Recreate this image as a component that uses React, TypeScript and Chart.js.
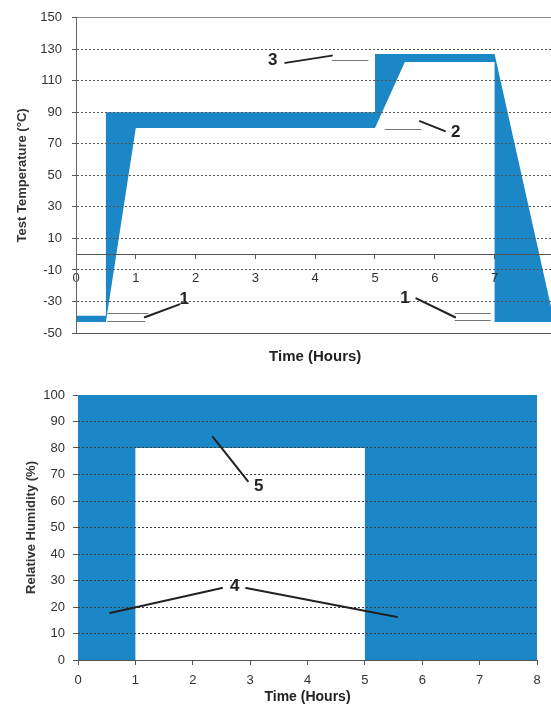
import React, { useEffect, useRef } from 'react';
import { Chart, registerables } from 'chart.js';

Chart.register(...registerables);

const FONT = '"Liberation Sans", Arial, Helvetica, sans-serif';
const BLUE = '#1c87c7';
Chart.defaults.font.family = FONT;

// ---------- Top chart: test temperature profile ----------
const hourTicks = [0, 1, 2, 3, 4, 5, 6, 7, 8];
const tempTicks = [-50, -30, -10, 10, 30, 50, 70, 90, 110, 130, 150];
// upper edge of the tolerance band
const upperHours = [0, 0.5, 0.5, 5, 5, 7, 8];
const upperTemps = [-39, -39, 90, 90, 127, 127, -43];
// lower edge of the tolerance band
const lowerHours = [0, 0.5, 1, 5, 5.5, 7, 7, 8];
const lowerTemps = [-43, -43, 80, 80, 122, 122, -43, -43];

// ---------- Bottom chart: relative humidity ----------
const rhTicks = [0, 10, 20, 30, 40, 50, 60, 70, 80, 90, 100];
const rhHours = [0, 1, 1, 5, 5, 8];
const rhLower = [0, 0, 80, 80, 0, 0];

// ---------- Callouts (data coordinates) ----------
type Callout = {
  text: string;
  at: [number, number];
  leaders: [number, number, number, number][];
  marks: [number, number, number][];
};

const tempCallouts: Callout[] = [
  { text: '3', at: [3.29, 123.3], leaders: [[3.5, 121.4, 4.28, 126.0]], marks: [[4.28, 4.89, 123.5]] },
  { text: '2', at: [6.35, 77.5], leaders: [[5.75, 84.4, 6.17, 78.1]], marks: [[5.17, 5.77, 79.4]] },
  { text: '1', at: [1.81, -28.6], leaders: [[1.73, -31.8, 1.15, -40.0]], marks: [[0.53, 1.2, -37.6], [0.53, 1.15, -42.3]] },
  { text: '1', at: [5.5, -28.0], leaders: [[5.69, -28.0, 6.34, -40.0]], marks: [[6.34, 6.93, -37.6], [6.34, 6.93, -41.8]] },
];

const rhCallouts: Callout[] = [
  { text: '5', at: [3.15, 65.7], leaders: [[2.96, 67.5, 2.35, 84.2]], marks: [] },
  { text: '4', at: [2.73, 27.9], leaders: [[2.51, 27.2, 0.56, 17.7], [2.93, 27.2, 5.56, 16.2]], marks: [] },
];

function makeCalloutPlugin(items: Callout[]) {
  return {
    id: 'callouts',
    afterDraw(chart: any) {
      const ctx = chart.ctx as CanvasRenderingContext2D;
      const xs = chart.scales.x;
      const ys = chart.scales.y;
      const px = (v: number) => xs.getPixelForValue(v);
      const py = (v: number) => ys.getPixelForValue(v);
      ctx.save();
      for (const it of items) {
        ctx.strokeStyle = '#777';
        ctx.lineWidth = 1;
        for (const [x1, x2, y] of it.marks) {
          ctx.beginPath();
          ctx.moveTo(px(x1), Math.round(py(y)) + 0.5);
          ctx.lineTo(px(x2), Math.round(py(y)) + 0.5);
          ctx.stroke();
        }
        ctx.strokeStyle = '#222';
        ctx.lineWidth = 2;
        ctx.lineCap = 'round';
        for (const [x1, y1, x2, y2] of it.leaders) {
          ctx.beginPath();
          ctx.moveTo(px(x1), py(y1));
          ctx.lineTo(px(x2), py(y2));
          ctx.stroke();
        }
        ctx.fillStyle = '#222';
        ctx.font = `bold 17px ${FONT}`;
        ctx.textAlign = 'center';
        ctx.textBaseline = 'middle';
        ctx.fillText(it.text, px(it.at[0]), py(it.at[1]));
      }
      ctx.restore();
    },
  };
}

const setTicks = (list: number[]) => (s: any) => {
  s.ticks = list.map((v) => ({ value: v }));
};

function topConfig(): any {
  const band = [
    ...upperHours.map((h, i) => ({ x: h, y: upperTemps[i] })),
    ...lowerHours.map((h, i) => ({ x: h, y: lowerTemps[i] })).reverse(),
  ];
  return {
    type: 'line',
    data: {
      datasets: [
        {
          data: band,
          fill: 'shape',
          backgroundColor: BLUE,
          borderWidth: 0,
          pointRadius: 0,
          tension: 0,
          xAxisID: 'x',
          yAxisID: 'y',
        },
      ],
    },
    options: {
      responsive: false,
      animation: false,
      devicePixelRatio: 1,
      events: [],
      layout: { padding: { top: 14, right: 13, bottom: 0, left: 0 } },
      plugins: { legend: { display: false }, tooltip: { enabled: false } },
      scales: {
        x: {
          type: 'linear',
          min: 0,
          max: 8,
          position: { y: 0 },
          afterBuildTicks: setTicks(hourTicks),
          grid: { drawOnChartArea: false, drawTicks: true, tickLength: 4, color: '#555', z: 1 },
          border: { display: true, color: '#555', width: 1, z: 1 },
          ticks: { padding: 12, font: { size: 13 }, color: '#333', maxRotation: 0, autoSkip: false, z: 1 },
        },
        x2: {
          type: 'linear',
          min: 0,
          max: 8,
          position: 'bottom',
          ticks: { display: false },
          grid: { display: false, drawTicks: false },
          border: { display: true, color: '#555', width: 1 },
          title: {
            display: true,
            text: 'Time (Hours)',
            font: { size: 15, weight: 'bold' },
            color: '#222',
            padding: { top: 0, bottom: 0 },
          },
          afterFit: (s: any) => {
            s.height = 33;
          },
        },
        y: {
          type: 'linear',
          min: -50,
          max: 150,
          position: 'left',
          afterBuildTicks: setTicks(tempTicks),
          afterFit: (s: any) => {
            s.width = 76;
          },
          grid: {
            color: (c: any) => (c.tick && c.tick.value === 150 ? '#888' : c.tick && c.tick.value === -50 ? 'rgba(0,0,0,0)' : '#555'),
            lineWidth: 1,
            tickLength: 4,
            tickColor: '#555',
            z: 1,
          },
          border: {
            display: true,
            color: '#666',
            width: 1,
            z: 1,
            dash: (c: any) => (c.tick && (c.tick.value === 150 || c.tick.value === -50) ? [] : [2, 2]),
          },
          ticks: { padding: 10, font: { size: 13 }, color: '#333', z: 1 },
          title: {
            display: true,
            text: 'Test Temperature (°C)',
            font: { size: 13, weight: 'bold' },
            color: '#333',
            padding: { top: 15, bottom: 0 },
          },
        },
      },
    },
    plugins: [makeCalloutPlugin(tempCallouts)],
  };
}

function bottomConfig(): any {
  return {
    type: 'line',
    data: {
      datasets: [
        {
          data: rhHours.map((h, i) => ({ x: h, y: rhLower[i] })),
          fill: 'end',
          backgroundColor: BLUE,
          borderWidth: 0,
          pointRadius: 0,
          tension: 0,
        },
      ],
    },
    options: {
      responsive: false,
      animation: false,
      devicePixelRatio: 1,
      events: [],
      layout: { padding: { top: 25, right: 14, bottom: 0, left: 0 } },
      plugins: { legend: { display: false }, tooltip: { enabled: false } },
      scales: {
        x: {
          type: 'linear',
          min: 0,
          max: 8,
          position: 'bottom',
          afterBuildTicks: setTicks(hourTicks),
          afterFit: (s: any) => {
            s.height = 46;
          },
          grid: { drawOnChartArea: false, drawTicks: true, tickLength: 5, color: '#555', z: 1 },
          border: { display: true, color: '#555', width: 1, z: 1 },
          ticks: { padding: 8, font: { size: 13 }, color: '#333', maxRotation: 0, autoSkip: false },
          title: {
            display: true,
            text: 'Time (Hours)',
            font: { size: 14, weight: 'bold' },
            color: '#222',
            padding: { top: 0, bottom: 0 },
          },
        },
        y: {
          type: 'linear',
          min: 0,
          max: 100,
          position: 'left',
          afterBuildTicks: setTicks(rhTicks),
          afterFit: (s: any) => {
            s.width = 78;
          },
          grid: {
            color: (c: any) => (c.tick && (c.tick.value === 0 || c.tick.value === 100) ? 'rgba(0,0,0,0)' : '#3d3d3d'),
            lineWidth: 1,
            tickLength: 5,
            tickColor: '#555',
            z: 1,
          },
          border: { display: false, dash: [2, 2], z: 1 },
          ticks: { padding: 8, font: { size: 13 }, color: '#333' },
          title: {
            display: true,
            text: 'Relative Humidity (%)',
            font: { size: 13, weight: 'bold' },
            color: '#333',
            padding: { top: 24, bottom: 0 },
          },
        },
      },
    },
    plugins: [makeCalloutPlugin(rhCallouts)],
  };
}

export default function App() {
  const topRef = useRef<HTMLCanvasElement>(null);
  const botRef = useRef<HTMLCanvasElement>(null);

  useEffect(() => {
    const top = new Chart(topRef.current as HTMLCanvasElement, topConfig());
    const bot = new Chart(botRef.current as HTMLCanvasElement, bottomConfig());
    return () => {
      top.destroy();
      bot.destroy();
    };
  }, []);

  return (
    <div
      style={{
        position: 'absolute',
        left: 0,
        top: 0,
        width: 551,
        height: 706,
        overflow: 'hidden',
        background: '#fff',
      }}
    >
      <canvas
        ref={topRef}
        width={570}
        height={366}
        style={{ position: 'absolute', left: 0, top: 0, width: 570, height: 366 }}
      />
      <canvas
        ref={botRef}
        width={551}
        height={336}
        style={{ position: 'absolute', left: 0, top: 370, width: 551, height: 336 }}
      />
    </div>
  );
}
